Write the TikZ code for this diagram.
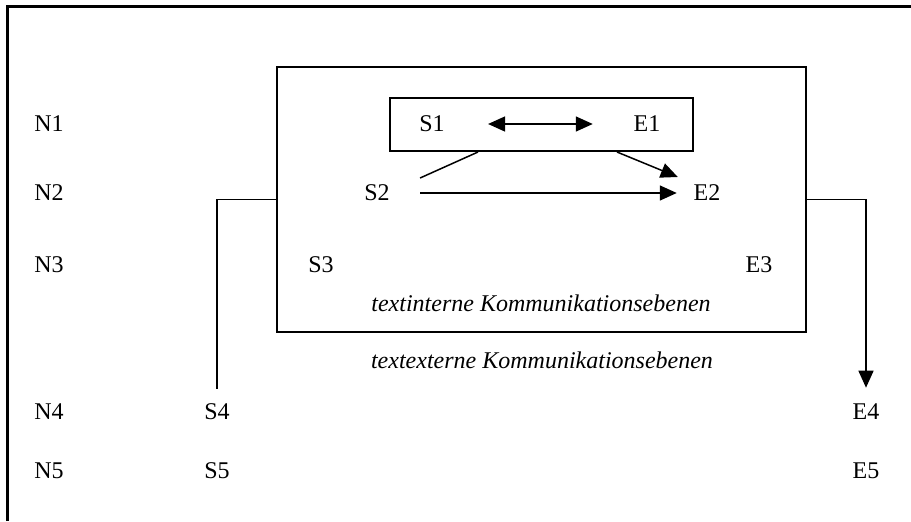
\documentclass[tikz,border=0pt]{standalone}
\usepackage{fontspec}
\setmainfont{Liberation Serif}
\usetikzlibrary{arrows.meta}
\begin{document}
\begin{tikzpicture}[x=0.5pt,y=-0.5pt,
  lbl/.style={inner sep=0pt, font=\fontsize{12}{14}\selectfont},
  itlbl/.style={inner sep=0pt, font=\fontsize{12}{14}\selectfont\itshape},
  boxnode/.style={draw, line width=1pt, inner sep=0pt},
  conn/.style={line width=0.75pt},
  arrowtip/.style={-{Triangle[length=8.5pt,width=7.5pt]}},
  dblarrow/.style={{Triangle[length=8.5pt,width=7.5pt]}-{Triangle[length=8.5pt,width=7.5pt]}},
  frame/.style={line width=1.5pt}
]
\useasboundingbox (0,0) rectangle (911,521);
% outer frame (top and left edges)
\coordinate (fbl) at (7,521);
\coordinate (ftl) at (7,6);
\coordinate (ftr) at (911,6);
\draw[frame] (fbl) -- (ftl) -- (ftr);

% boxes
\node[boxnode, minimum width=264.5pt, minimum height=132.5pt] (inner) at (541.5,199.5) {};
\node[boxnode, minimum width=151.5pt, minimum height=26.5pt] (small) at (541.5,124.5) {};

% level labels
\node[lbl] (N1) at (49,124) {N1};
\node[lbl] (N2) at (49,193) {N2};
\node[lbl] (N3) at (49,265) {N3};
\node[lbl] (N4) at (49,411.5) {N4};
\node[lbl] (N5) at (49,471) {N5};

% senders / receivers
\node[lbl] (S1) at (432,124) {S1};
\node[lbl] (E1) at (647,124) {E1};
\node[lbl] (S2) at (377,193) {S2};
\node[lbl] (E2) at (707,193) {E2};
\node[lbl] (S3) at (321,265) {S3};
\node[lbl] (E3) at (759,265) {E3};
\node[lbl] (S4) at (217,411.5) {S4};
\node[lbl] (E4) at (866,411.5) {E4};
\node[lbl] (S5) at (217,471) {S5};
\node[lbl] (E5) at (866,471) {E5};

\node[itlbl] (intern) at (541,303) {textinterne Kommunikationsebenen};
\node[itlbl] (extern) at (542,360) {textexterne Kommunikationsebenen};

% connectors
\draw[conn, dblarrow] ([xshift=21.5pt]S1.east) -- ([xshift=-20.25pt]E1.west);
\draw[conn, arrowtip] ([xshift=15pt]S2.east) -- ([xshift=-8.25pt]E2.west);
\draw[conn] ([xshift=-31.75pt]small.south) -- ([xshift=15pt,yshift=7.5pt]S2.east);
\draw[conn, arrowtip] ([xshift=37.75pt]small.south) -- ([xshift=-7.75pt,yshift=8pt]E2.west);
\draw[conn] (inner.west) -| ([yshift=7.25pt]S4.north);
\draw[conn, arrowtip] (inner.east) -| ([yshift=7.75pt]E4.north);
\end{tikzpicture}
\end{document}
